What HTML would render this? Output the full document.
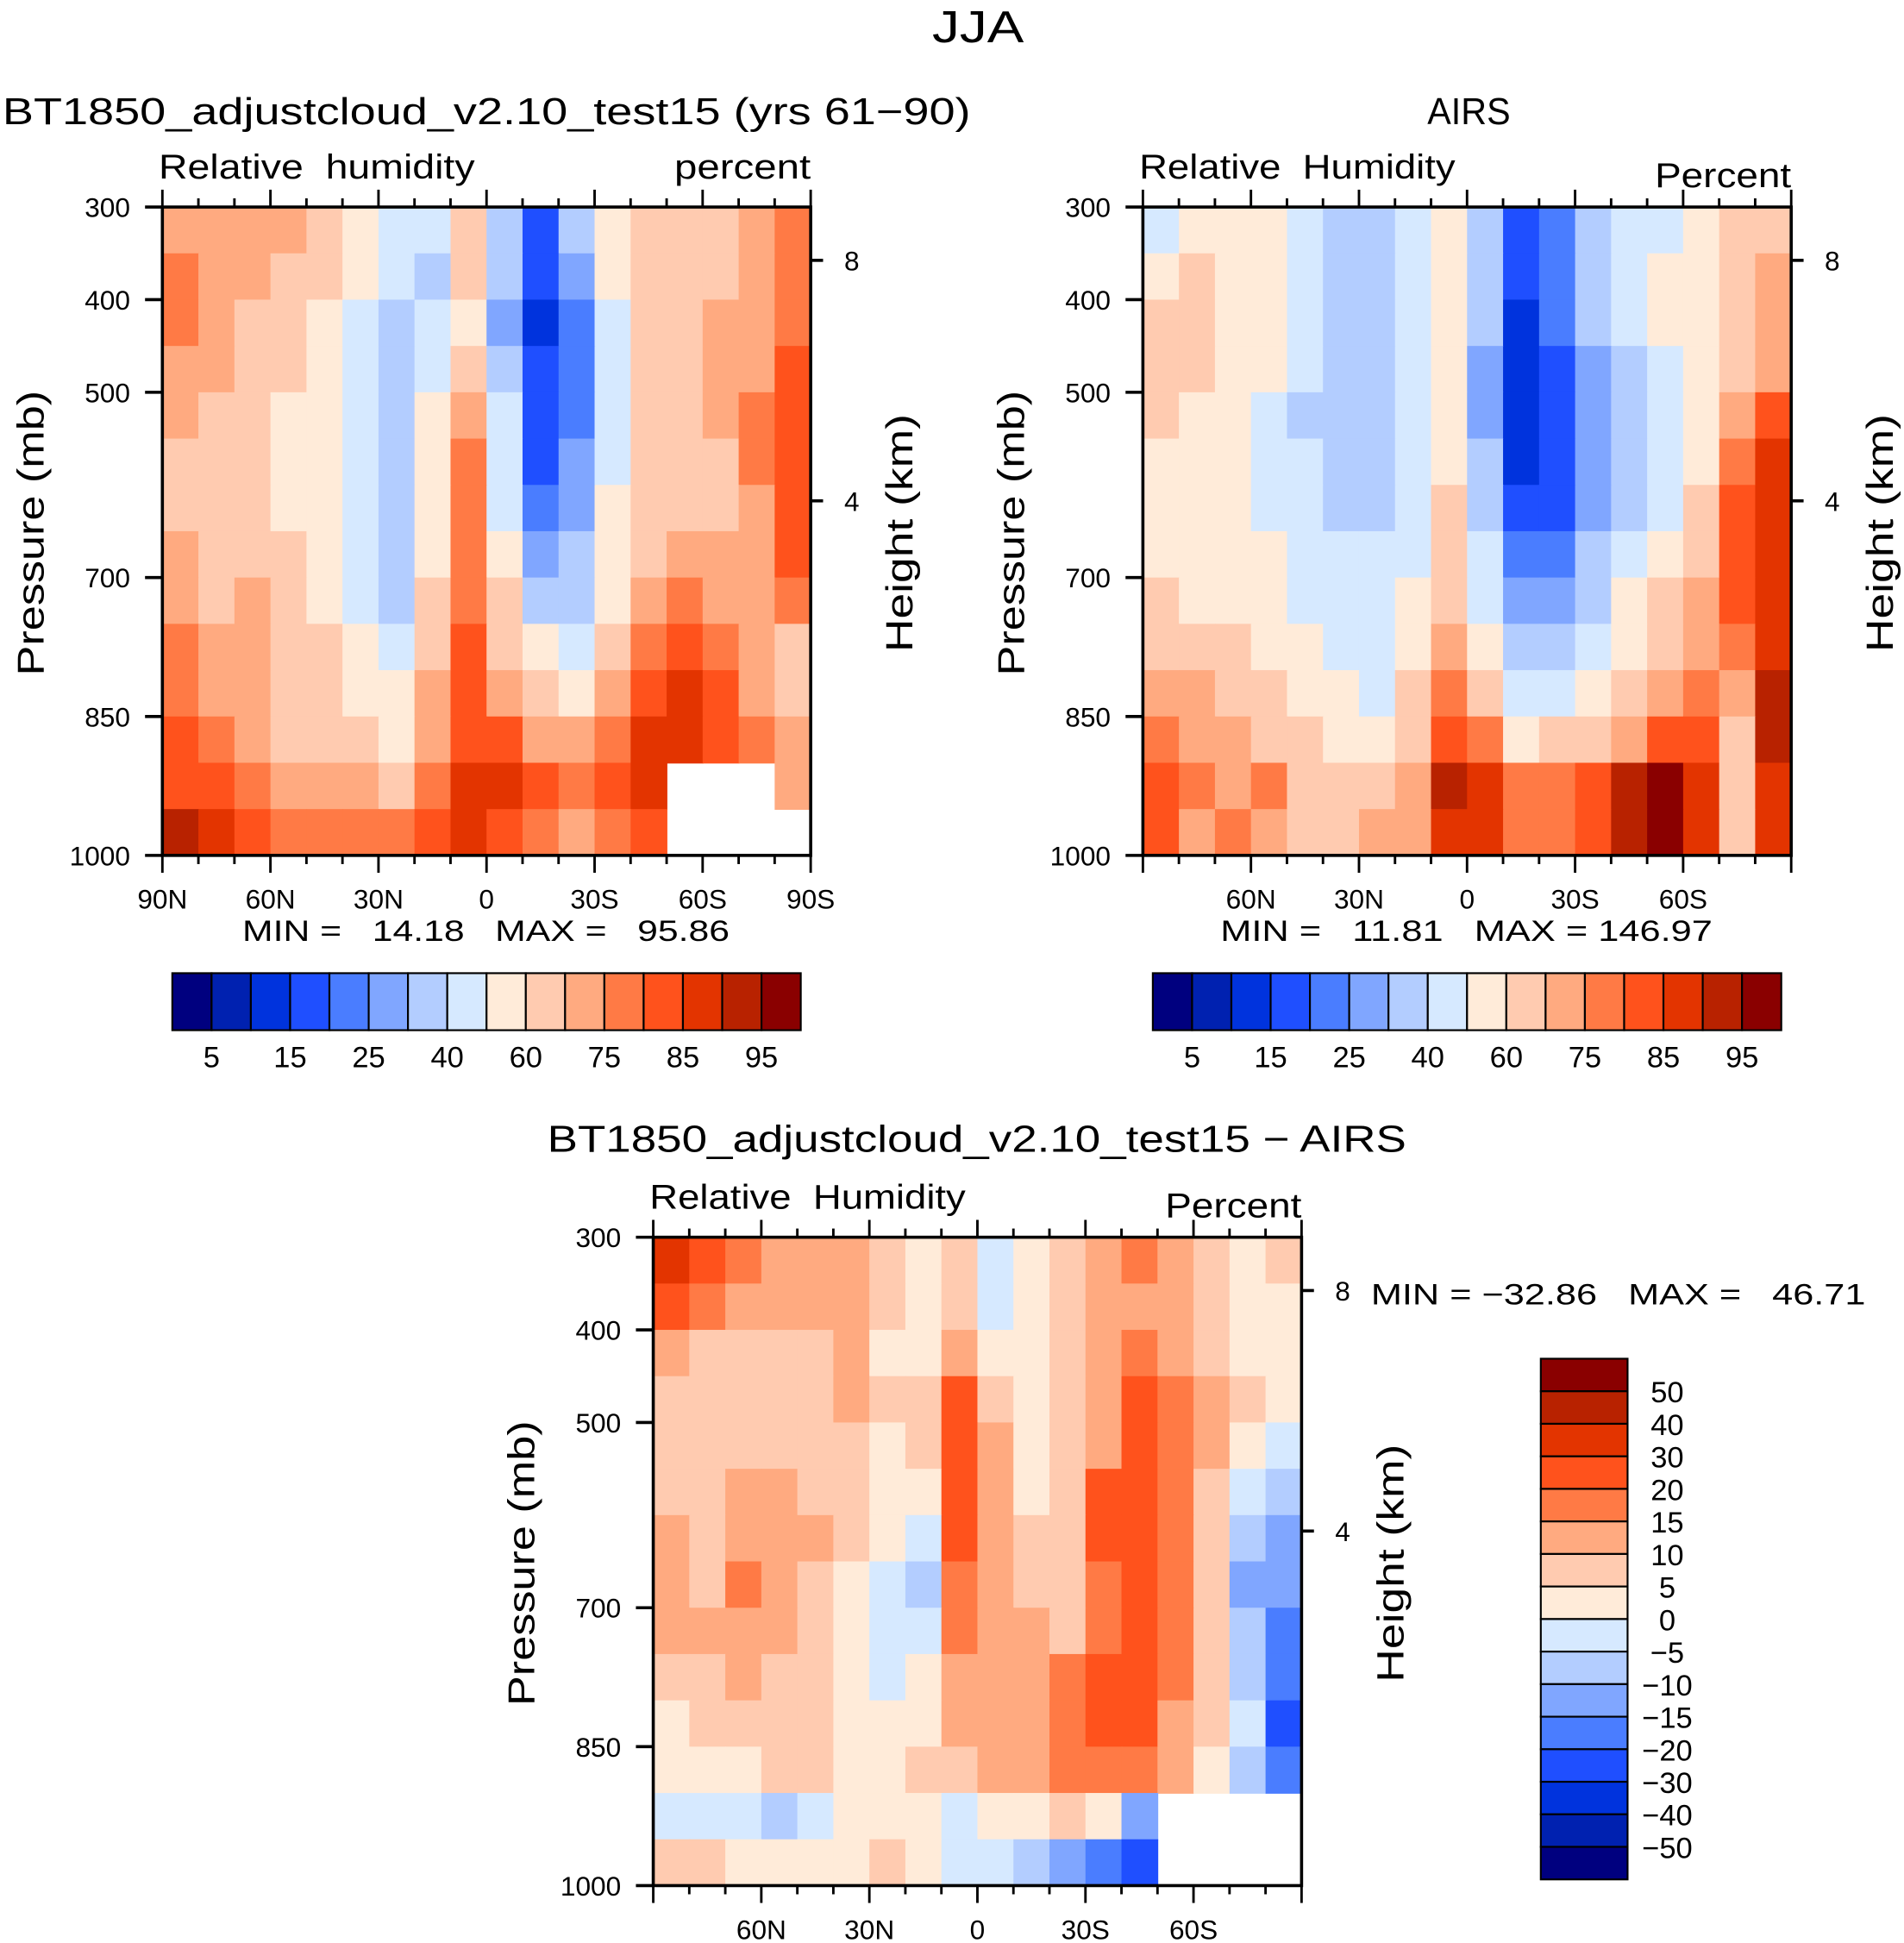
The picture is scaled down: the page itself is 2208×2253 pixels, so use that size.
<!DOCTYPE html>
<html><head><meta charset="utf-8"><style>
html,body{margin:0;padding:0;background:#fff;}
svg{display:block;font-family:"Liberation Sans",sans-serif;}
</style></head><body>
<svg id="s" width="2208" height="2253" viewBox="0 0 1536 1567.3">
<text x="789" y="34" font-size="36" text-anchor="middle" textLength="74" lengthAdjust="spacingAndGlyphs">JJA</text>
</svg>
<script>
const levelsAbs=[5,10,15,20,25,30,40,50,60,70,75,80,85,90,95];
const levelsDiff=[-50,-40,-30,-20,-15,-10,-5,0,5,10,15,20,30,40,50];
const absLabels=["5","15","25","40","60","75","85","95"];
const diffLabels=["−50","−40","−30","−20","−15","−10","−5","0","5","10","15","20","30","40","50"];
const pressTicks=[300,400,500,700,850,1000];
const latCenters=[85,75,65,55,45,35,25,15,5,-5,-15,-25,-35,-45,-55,-65,-75,-85];
const presCenters=[325,375,425,475,525,575,625,675,725,775,825,875,925,975];
const palette=["#00007f","#0021b0","#0033dd","#1f4fff","#4a7dff","#80a6ff","#b3cdff","#d6e9ff","#ffebd9","#ffcbb0","#ffaa80","#ff7a45","#ff521c","#e33400","#b82200","#8a0000"];
const modelRH=[
[72,72,72,72,65,55,45,45,65,35,17,35,55,65,65,65,72,77],
[77,72,72,65,65,55,45,35,65,35,17,27,55,65,65,65,72,77],
[77,72,65,65,55,45,35,45,55,27,12,22,45,65,65,72,72,77],
[72,72,65,65,55,45,35,45,65,35,17,22,45,65,65,72,72,82],
[72,65,65,55,55,45,35,55,72,40,17,22,45,65,65,72,77,82],
[65,65,65,55,55,45,35,55,77,45,17,27,45,65,65,65,77,82],
[65,65,65,55,55,45,35,55,77,45,22,27,55,65,65,65,72,82],
[72,65,65,65,55,45,35,55,77,55,27,35,55,65,72,72,72,82],
[72,65,72,65,55,45,35,65,77,65,35,35,55,72,77,72,72,77],
[77,72,72,65,65,55,45,65,82,65,55,45,65,77,82,77,72,65],
[77,72,72,65,65,55,55,72,82,72,65,55,72,82,87,82,72,65],
[82,77,72,65,65,65,55,72,82,82,72,72,77,87,87,82,77,72],
[82,82,77,72,72,72,65,77,87,87,82,77,82,87,null,null,null,72],
[92,87,82,77,77,77,77,82,87,82,77,72,77,82,null,null,null,null]];
const airsRH=[
[45,55,55,55,45,35,35,45,55,35,17,22,35,45,45,55,65,65],
[55,60,55,55,45,35,35,45,55,35,17,22,35,45,55,55,65,72],
[65,65,55,55,45,35,35,45,55,30,12,22,35,45,55,55,65,72],
[65,65,55,55,45,35,35,45,55,27,12,17,27,35,45,55,65,72],
[65,55,55,45,35,35,35,45,55,27,12,17,27,35,45,55,72,82],
[55,55,55,45,45,35,35,45,55,35,12,17,27,35,45,55,77,87],
[55,55,55,45,45,35,35,45,65,35,17,17,27,35,45,65,82,87],
[55,55,55,55,45,45,45,45,65,45,22,22,35,45,55,65,82,87],
[65,55,55,55,45,45,45,55,65,45,27,27,35,55,65,72,82,87],
[65,65,65,55,55,45,45,55,72,55,35,35,45,55,65,72,77,87],
[72,72,65,65,55,55,45,65,77,65,45,45,55,65,72,77,72,92],
[77,72,72,65,65,55,55,65,82,77,55,65,65,72,82,82,65,92],
[82,77,72,77,65,65,65,72,92,87,77,77,82,92,97,87,65,87],
[82,72,77,72,65,65,72,72,87,87,77,77,82,92,97,87,65,87]];
const diffRH=[
[35,25,17,12,12,12,7,2,7,-2,2,7,12,17,12,7,2,7],
[25,17,12,12,12,12,7,2,7,-2,2,7,12,12,12,7,2,2],
[12,7,7,7,7,12,2,2,12,2,2,7,12,17,12,7,2,2],
[7,7,7,7,7,12,7,7,25,7,2,7,12,25,17,12,7,2],
[7,7,7,7,7,7,2,7,25,12,2,7,12,25,17,12,2,-2],
[7,7,12,12,7,7,2,2,25,12,2,7,25,25,17,7,-2,-7],
[12,7,12,12,12,7,2,-2,25,12,7,7,25,25,17,7,-7,-12],
[12,7,17,12,7,2,-2,-7,17,12,7,7,17,25,17,7,-12,-12],
[12,12,12,12,7,2,-2,-2,17,12,12,7,17,25,17,7,-7,-17],
[7,7,12,7,7,2,-2,2,12,12,12,17,25,25,17,7,-7,-17],
[2,7,7,7,7,2,2,2,12,12,12,17,25,25,12,7,-2,-25],
[2,2,2,7,7,2,2,7,7,12,12,17,17,17,12,2,-7,-17],
[-2,-2,-2,-7,-2,2,2,2,-2,2,2,7,2,-12,null,null,null,null],
[7,7,2,2,2,2,7,2,-2,-2,-7,-12,-17,-25,null,null,null,null]];

const svg=document.getElementById('s');
const NS="http://www.w3.org/2000/svg";
function mk(tag,attrs,parent){const e=document.createElementNS(NS,tag);for(const k in attrs)e.setAttribute(k,attrs[k]);(parent||svg).appendChild(e);return e;}
function txt(x,y,s,size,anchor,parent,len){const a={x:x,y:y,'font-size':size,'text-anchor':anchor||'start'};if(len){a.textLength=len;a.lengthAdjust='spacingAndGlyphs';}const t=mk('text',a,parent);t.textContent=s;return t;}
function colorFor(v,lev){let i=0;while(i<lev.length&&v>=lev[i])i++;return palette[i];}

function panel(opt){
  const g=mk('g',{});
  
  
  const x0=opt.x0,y0=opt.y0,W=523,H=523;
  const xs=lat=>x0+(90-lat)/180*W;
  const ys=p=>y0+(p-300)/700*H;
  for(let r=0;r<presCenters.length;r++){for(let c=0;c<latCenters.length;c++){
    const v=opt.data[r][c]; if(v===null)continue;
    const xa=xs(latCenters[c]+5),xb=xs(latCenters[c]-5),ya=ys(presCenters[r]-25),yb=ys(presCenters[r]+25);
    const rc=mk('rect',{x:xa,y:ya,width:xb-xa+0.6,height:yb-ya+0.6,fill:colorFor(v,opt.lev)},g);
    
    
  }}
  const fr=mk('rect',{x:x0,y:y0,width:W,height:H,fill:'none',stroke:'#000','stroke-width':2.5},g);
  
  
  for(let lat=90;lat>=-90;lat-=10){
    const major=lat%30===0, L=major?14:7, x=xs(lat);
    mk('line',{x1:x,y1:y0,x2:x,y2:y0-L,stroke:'#000','stroke-width':2},g);
    mk('line',{x1:x,y1:y0+H,x2:x,y2:y0+H+L,stroke:'#000','stroke-width':2},g);
  }
  pressTicks.forEach(p=>{mk('line',{x1:x0,y1:ys(p),x2:x0-14,y2:ys(p),stroke:'#000','stroke-width':2.5},g);
    const t=txt(x0-26,ys(p)+8,String(p),22,'end',g);
    
    });
  [[8,43],[4,237]].forEach(([k,dy])=>{mk('line',{x1:x0+W,y1:y0+dy,x2:x0+W+10,y2:y0+dy,stroke:'#000','stroke-width':2.5},g);
    const t=txt(x0+W+27,y0+dy+8,String(k),22,'start',g);
    
    });
  opt.xlabels.forEach(([lat,s])=>{const t=txt(xs(lat),y0+H+43,s,22,'middle',g);
    
    });
  let t=txt(0,0,'Pressure (mb)',30,'middle',g,230);t.setAttribute('transform',`translate(${x0-96},${y0+263}) rotate(-90)`);
  
  
  t=txt(0,0,'Height (km)',30,'middle',g,192);t.setAttribute('transform',`translate(${x0+W+82},${y0+263}) rotate(-90)`);
  
  
  t=txt(x0-3,y0-23,'Relative  '+opt.rh,28,'start',g,255);
  
  
  t=txt(x0+W,y0-opt.unitDy,opt.unit,28,'end',g,110);
  
  
}
const xl1=[[90,'90N'],[60,'60N'],[30,'30N'],[0,'0'],[-30,'30S'],[-60,'60S'],[-90,'90S']];
const xl2=[[60,'60N'],[30,'30N'],[0,'0'],[-30,'30S'],[-60,'60S']];
panel({name:'model-panel',x0:131,y0:167,data:modelRH,lev:levelsAbs,xlabels:xl1,rh:'humidity',unit:'percent',unitDy:23});
panel({name:'airs-panel',x0:922,y0:167,data:airsRH,lev:levelsAbs,xlabels:xl2,rh:'Humidity',unit:'Percent',unitDy:16});
panel({name:'difference-panel',x0:527,y0:998,data:diffRH,lev:levelsDiff,xlabels:xl2,rh:'Humidity',unit:'Percent',unitDy:16});

function hbar(x0,name){
  const g=mk('g',{});
  
  
  const w=507/16;
  for(let i=0;i<16;i++){mk('rect',{x:x0+i*w,y:785,width:w,height:46,fill:palette[i],stroke:'#000','stroke-width':1.5},g);}
  absLabels.forEach((s,i)=>{const t=txt(x0+(2*i+1)*w,861,s,24,'middle',g);
    
    });
}
hbar(139,'model-colorbar');hbar(930,'airs-colorbar');
(function(){
  const g=mk('g',{});
  
  
  const h=420/16;
  for(let i=0;i<16;i++){mk('rect',{x:1243,y:1096+i*h,width:70,height:h,fill:palette[15-i],stroke:'#000','stroke-width':1.5},g);}
  for(let i=0;i<15;i++){const t=txt(1345,1096+(i+1)*h+9,diffLabels[14-i],24,'middle',g);
    
    }
})();
let t;
t=txt(2,100,'BT1850_adjustcloud_v2.10_test15 (yrs 61−90)',30,'start',null,781);
t=txt(1185,100,'AIRS',30,'middle',null,67);
t=txt(788,929,'BT1850_adjustcloud_v2.10_test15 − AIRS',30,'middle',null,693);
t=txt(392,759,'MIN =   14.18   MAX =   95.86',24,'middle',null,393);
t=txt(1183,759,'MIN =   11.81   MAX = 146.97',24,'middle',null,397);
t=txt(1106,1052,'MIN = −32.86   MAX =   46.71',24,'start',null,399);
document.querySelectorAll('text').forEach(e=>e.style.whiteSpace='pre');
</script>
</body></html>
